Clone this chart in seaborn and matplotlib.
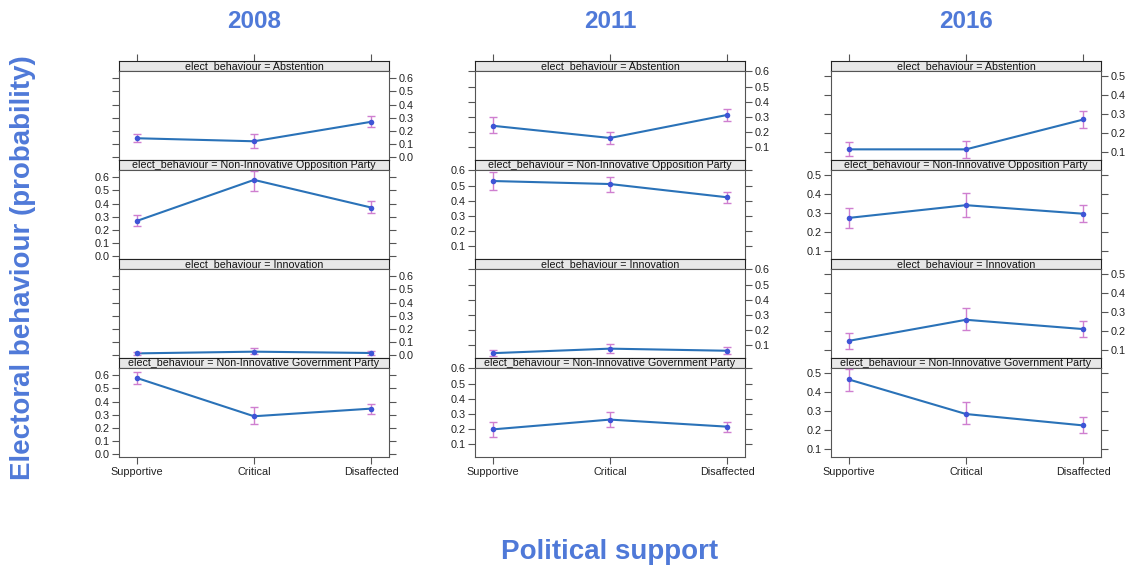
import matplotlib
matplotlib.use("Agg")
import matplotlib.pyplot as plt
import numpy as np
import pandas as pd
import seaborn as sns

# ---- data -------------------------------------------------------------
years = ["2008", "2011", "2016"]
categories = ["Supportive", "Critical", "Disaffected"]
behaviours = ["Abstention", "Non-Innovative Opposition Party",
              "Innovation", "Non-Innovative Government Party"]

# predicted probabilities (rows follow `behaviours`, columns `categories`)
fit_2008 = [[0.145, 0.122, 0.270],
            [0.268, 0.580, 0.370],
            [0.015, 0.028, 0.018],
            [0.580, 0.289, 0.347]]
low_2008 = [[0.115, 0.074, 0.229],
            [0.230, 0.497, 0.327],
            [0.005, 0.010, 0.005],
            [0.537, 0.228, 0.304]]
upp_2008 = [[0.178, 0.178, 0.313],
            [0.311, 0.646, 0.418],
            [0.028, 0.053, 0.033],
            [0.625, 0.362, 0.385]]

fit_2011 = [[0.240, 0.159, 0.312],
            [0.530, 0.510, 0.422],
            [0.045, 0.075, 0.061],
            [0.196, 0.261, 0.214]]
low_2011 = [[0.195, 0.122, 0.273],
            [0.472, 0.458, 0.381],
            [0.024, 0.047, 0.040],
            [0.145, 0.214, 0.176]]
upp_2011 = [[0.296, 0.200, 0.350],
            [0.591, 0.559, 0.460],
            [0.066, 0.107, 0.084],
            [0.245, 0.310, 0.245]]

fit_2016 = [[0.116, 0.116, 0.273],
            [0.276, 0.343, 0.298],
            [0.150, 0.261, 0.212],
            [0.468, 0.286, 0.226]]
low_2016 = [[0.080, 0.073, 0.226],
            [0.225, 0.283, 0.252],
            [0.107, 0.207, 0.168],
            [0.407, 0.232, 0.184]]
upp_2016 = [[0.155, 0.162, 0.319],
            [0.329, 0.406, 0.343],
            [0.190, 0.324, 0.256],
            [0.525, 0.347, 0.272]]

y_ticks_2008 = [0.0, 0.1, 0.2, 0.3, 0.4, 0.5, 0.6]
y_ticks_2011 = [0.1, 0.2, 0.3, 0.4, 0.5, 0.6]
y_ticks_2016 = [0.1, 0.2, 0.3, 0.4, 0.5]

fits = [fit_2008, fit_2011, fit_2016]
lows = [low_2008, low_2011, low_2016]
upps = [upp_2008, upp_2011, upp_2016]
y_ticks = [y_ticks_2008, y_ticks_2011, y_ticks_2016]
y_limits = [(-0.02, 0.655), (0.013, 0.603), (0.06, 0.528)]

# ---- style ------------------------------------------------------------
sns.set_style("white")
plt.rcParams["font.family"] = ["Liberation Sans", "DejaVu Sans"]

W, H = 1131, 567
fig = plt.figure(figsize=(W / 100, H / 100), dpi=100)
fig.patch.set_facecolor("white")

LINE = "#2a72b8"
POINT = "#3e55d6"
ERR = "#cf7fd0"
FRAME = "#555555"
TITLE = "#4f79d8"
STRIP = "#e8e8e8"


def px_axes(x0, y0, w, h):
    return fig.add_axes([x0 / W, 1 - (y0 + h) / H, w / W, h / H])


col_left = [119, 475, 831]
col_width = 270
top0 = 61
strip_h = 10
plot_h = 89
facet_h = strip_h + plot_h
xlim = (-0.15, 2.15)

for c, year in enumerate(years):
    x0 = col_left[c]
    for r, beh in enumerate(behaviours):
        ys = top0 + r * facet_h
        # strip header
        sax = px_axes(x0, ys, col_width, strip_h)
        sax.set_facecolor(STRIP)
        sax.set_xlim(xlim)
        sax.set_yticks([])
        for s in sax.spines.values():
            s.set_color("#222222")
            s.set_linewidth(0.8)
        sax.text(0.5, 0.5, f"elect_behaviour = {beh}", transform=sax.transAxes,
                 ha="center", va="center", fontsize=7.7, color="#111111")
        if r == 0:
            sax.set_xticks(range(len(categories)))
            sax.tick_params(axis="x", top=True, bottom=False, labeltop=False,
                            labelbottom=False, length=5, width=0.8,
                            color=FRAME, direction="out")
        else:
            sax.set_xticks([])

        # panel
        ax = px_axes(x0, ys + strip_h, col_width, plot_h)
        df = pd.DataFrame({"support": categories, "prob": fits[c][r]})
        sns.lineplot(data=df, x="support", y="prob", ax=ax, sort=False,
                     color=LINE, linewidth=1.5, zorder=2)
        lo = np.array(lows[c][r])
        hi = np.array(upps[c][r])
        mid = np.array(fits[c][r])
        ax.errorbar(categories, mid, yerr=[mid - lo, hi - mid], fmt="none",
                    ecolor=ERR, elinewidth=1.0, capsize=3.2, capthick=1.0,
                    zorder=3)
        sns.scatterplot(data=df, x="support", y="prob", ax=ax, color=POINT,
                        s=16, linewidth=0, zorder=4)
        ax.set_xlim(xlim)
        ax.set_ylim(y_limits[c])
        ax.set_xlabel("")
        ax.set_ylabel("")
        ax.set_yticks(y_ticks[c])
        ax.set_yticklabels([f"{v:.1f}" for v in y_ticks[c]])
        label_right = (r % 2 == 0)
        ax.tick_params(axis="y", left=True, right=True,
                       labelleft=not label_right, labelright=label_right,
                       length=5, width=0.8, color=FRAME, direction="out",
                       labelsize=7.8, labelcolor="#222222", pad=2)
        ax.set_xticks(range(len(categories)))
        if r == len(behaviours) - 1:
            ax.set_xticklabels(categories)
            ax.tick_params(axis="x", bottom=True, length=5, width=0.8,
                           color=FRAME, direction="out", labelsize=7.8,
                           labelcolor="#222222", pad=2)
        else:
            ax.tick_params(axis="x", bottom=False, labelbottom=False)
        for s in ax.spines.values():
            s.set_color(FRAME)
            s.set_linewidth(0.8)
        ax.grid(False)

    fig.text((x0 + col_width / 2) / W, 1 - 22 / H, year, ha="center",
             va="center", fontsize=17.4, fontweight="bold", color=TITLE)

fig.text(23 / W, 1 - 268 / H, "Electoral behaviour (probability)",
         rotation=90, ha="center", va="center", fontsize=20,
         fontweight="bold", color=TITLE)
fig.text(610 / W, 1 - 552 / H, "Political support", ha="center",
         va="center", fontsize=20, fontweight="bold", color=TITLE)

fig.savefig("out.png", dpi=100, facecolor="white")
